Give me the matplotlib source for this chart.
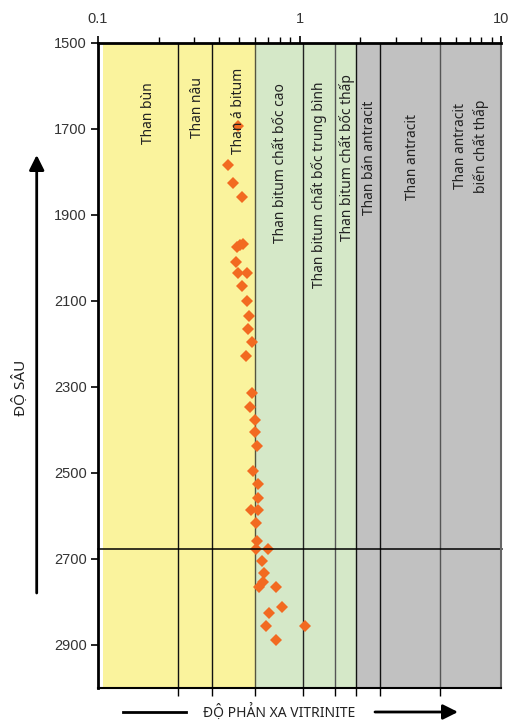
import matplotlib
matplotlib.use("Agg")
import matplotlib.pyplot as plt
from matplotlib.ticker import FixedLocator, NullFormatter, LogLocator

plt.rcParams["font.family"] = ["Liberation Sans", "DejaVu Sans"]

# Vitrinite reflectance (%Ro) versus depth (m)
depth = [1693, 1784, 1825, 1857, 1967, 1970, 1974, 2009, 2036, 2036, 2065, 2101,
         2136, 2166, 2195, 2227, 2315, 2346, 2377, 2405, 2437, 2495, 2526, 2559,
         2586, 2586, 2616, 2658, 2677, 2677, 2705, 2733, 2753, 2766, 2766, 2812,
         2826, 2855, 2855, 2888]
ro = [0.497, 0.44, 0.47, 0.52, 0.522, 0.507, 0.488, 0.482, 0.497, 0.551, 0.52, 0.551,
      0.563, 0.557, 0.579, 0.541, 0.579, 0.568, 0.601, 0.601, 0.613, 0.590, 0.620, 0.620,
      0.575, 0.620, 0.608, 0.613, 0.606, 0.695, 0.649, 0.669, 0.661, 0.630, 0.762, 0.822,
      0.706, 0.68, 1.065, 0.762]

# Coal rank boundaries (%Ro)
rank_bounds = [0.25, 0.37, 0.6, 1.04, 1.5, 1.9, 2.5, 5.0]
rank_names = ["Than bùn", "Than nâu", "Than á bitum", "Than bitum chất bốc cao",
              "Than bitum chất bốc trung bình", "Than bitum chất bốc thấp",
              "Than bán antracit", "Than antracit", "Than antracit\nbiến chất thấp"]
# label anchor (reflectance, depth) for each rank name
name_x = [0.1776, 0.311, 0.497, 0.807, 1.25, 1.727, 2.22, 3.65, 7.1]
name_y = [1663, 1651, 1659, 1779, 1829, 1767, 1766, 1765, 1740]

marker_line_depth = 2677

depth_ticks = [1500, 1700, 1900, 2100, 2300, 2500, 2700, 2900]
top_ticks = [0.1, 1, 10]
top_labels = ["0.1", "1", "10"]

fig = plt.figure(figsize=(5.14, 7.2), dpi=100)
ax = fig.add_axes([98 / 514, 1 - 688 / 720, 403 / 514, 645 / 720])

ax.set_xscale("log")
ax.set_xlim(0.1, 10)
ax.set_ylim(3000, 1500)

yellow = "#FAF39D"
green = "#D5E8C8"
grey = "#C1C1C1"
ax.axvspan(0.1055, 0.6, color=yellow, lw=0, zorder=0)
ax.axvspan(0.6, 1.9, color=green, lw=0, zorder=0)
ax.axvspan(1.9, 10, color=grey, lw=0, zorder=0)

line_cols = ["#111111", "#111111", "#555540", "#222222", "#555555", "#111111", "#111111", "#555555"]
for b, c in zip(rank_bounds, line_cols):
    ax.axvline(b, color=c, lw=1.0, zorder=1)

ax.plot(ro, depth, ls="none", marker="D", ms=6.3, mfc="#F26A21", mec="#F26A21",
        mew=0, zorder=3)

for name, x, y in zip(rank_names, name_x, name_y):
    ax.text(x, y, name, rotation=90, ha="center", va="center", fontsize=10,
            family="Noto Sans", color="#222222", linespacing=1.35, zorder=4,
            multialignment="center")

ax.plot([0.1, 10.15], [marker_line_depth] * 2, color="black", lw=1.1,
        clip_on=False, zorder=5)

# top axis: reflectance scale
ax.xaxis.tick_top()
ax.xaxis.set_major_locator(FixedLocator(top_ticks))
ax.set_xticklabels(top_labels)
ax.xaxis.set_minor_locator(LogLocator(base=10, subs=range(2, 10)))
ax.xaxis.set_minor_formatter(NullFormatter())
ax.tick_params(axis="x", which="major", direction="out", length=5, width=1.2,
               labelsize=10.5, pad=7, top=True, bottom=False, labelcolor="#333333")
ax.tick_params(axis="x", which="minor", direction="out", length=4, width=1.0,
               top=True, bottom=False)

# bottom ticks at rank boundaries
sec = ax.secondary_xaxis("bottom")
sec.set_xticks(rank_bounds)
sec.xaxis.set_minor_locator(FixedLocator([]))
sec.set_xticklabels([])
sec.tick_params(direction="out", length=6, width=1.0)
sec.spines["bottom"].set_visible(False)

ax.set_yticks(depth_ticks)
ax.tick_params(axis="y", direction="out", length=5, width=1.2, labelsize=10.5, pad=3,
               labelcolor="#333333")

ax.spines["left"].set_linewidth(2.0)
ax.spines["top"].set_linewidth(2.0)
ax.spines["bottom"].set_linewidth(1.5)
ax.spines["right"].set_linewidth(1.5)
ax.spines["right"].set_color("#666666")
for s in ax.spines.values():
    s.set_zorder(6)

# axis titles with arrows
fig.text(21 / 514, 1 - 388 / 720, "ĐỘ SÂU", rotation=90, ha="center", va="center",
         fontsize=11, family="Noto Sans", color="#222222")
fig.add_artist(matplotlib.patches.FancyArrowPatch(
    (36.7 / 514, 1 - 593 / 720), (36.7 / 514, 1 - 155 / 720),
    transform=fig.transFigure, arrowstyle="-|>,head_length=6,head_width=3",
    lw=2, color="black", mutation_scale=1.5, shrinkA=0, shrinkB=0))

fig.text(279 / 514, 1 - 713 / 720, "ĐỘ PHẢN XA VITRINITE", ha="center", va="center",
         fontsize=10, family="Noto Sans", color="#222222")
fig.add_artist(matplotlib.lines.Line2D([123 / 514, 186 / 514], [1 - 712 / 720] * 2,
                                       transform=fig.transFigure, lw=2, color="black"))
fig.add_artist(matplotlib.patches.FancyArrowPatch(
    (375 / 514, 1 - 712 / 720), (458 / 514, 1 - 712 / 720),
    transform=fig.transFigure, arrowstyle="-|>,head_length=6,head_width=3",
    lw=2, color="black", mutation_scale=1.5, shrinkA=0, shrinkB=0))

fig.savefig("out.png", dpi=100)
